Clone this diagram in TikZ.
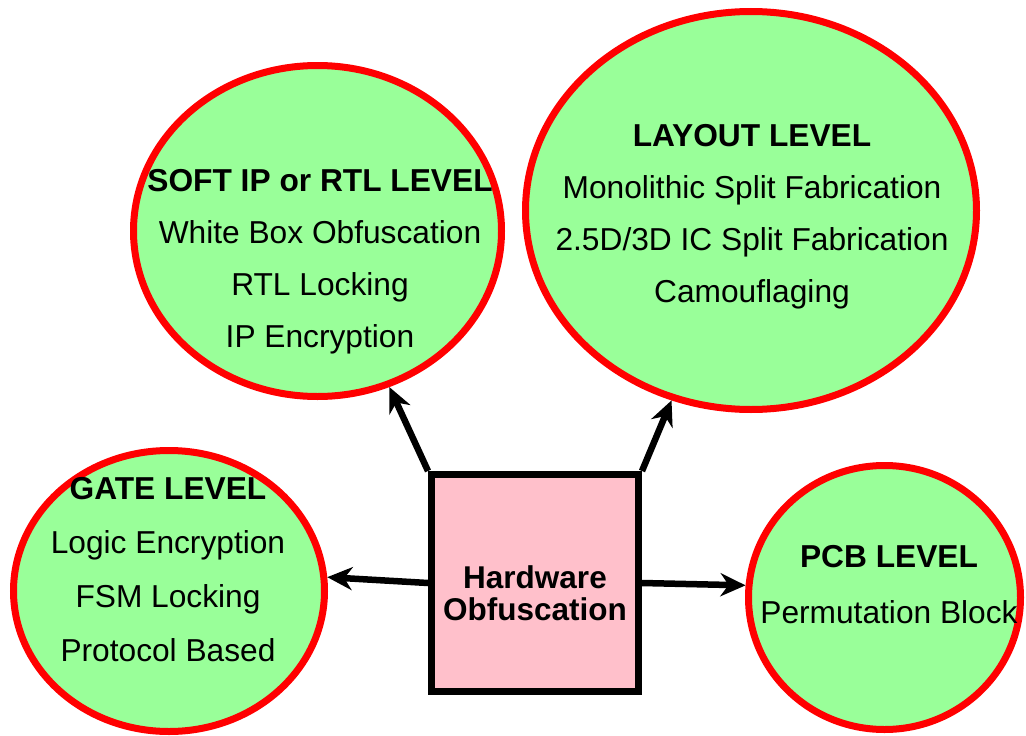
\documentclass[tikz,border=0pt]{standalone}
\usepackage{fontspec}
\setmainfont{Liberation Sans}
\usetikzlibrary{shapes.geometric,arrows.meta}
\definecolor{lvlgreen}{HTML}{99FF99}
\definecolor{boxpink}{HTML}{FFC0CB}
\tikzset{
  level/.style={ellipse, draw=red, fill=lvlgreen, line width=7pt, inner sep=0pt},
  lvltext/.style={align=center, font=\fontsize{31.7}{52}\selectfont, inner sep=0pt},
  core/.style={rectangle, draw=black, fill=boxpink, line width=7pt, minimum width=207pt, minimum height=217pt, inner sep=0pt},
  coretext/.style={align=center, inner sep=0pt, font=\fontsize{31.5}{32}\selectfont\bfseries},
  link/.style={line width=6.5pt, -{Stealth[length=25pt,width=23pt,inset=8pt]}}
}
\begin{document}
\begin{tikzpicture}[x=1pt,y=-1pt]
\useasboundingbox (0,0) rectangle (1026,736);
\node[level, minimum width=311pt, minimum height=281pt] (gate) at (169,591) {};
\node[level, minimum width=368pt, minimum height=331pt] (soft) at (317.5,231) {};
\node[level, minimum width=451pt, minimum height=398pt] (layout) at (751,210.5) {};
\node[level, minimum width=272pt, minimum height=264pt] (pcb) at (884.5,597.5) {};
\node[lvltext] (softtext) at (320,262) {\textbf{SOFT IP or RTL LEVEL}\\White Box Obfuscation\\RTL Locking\\IP Encryption};
\node[lvltext] (layouttext) at (752,217) {\textbf{LAYOUT LEVEL}\\Monolithic Split Fabrication\\2.5D/3D IC Split Fabrication\\Camouflaging};
\node[lvltext, font=\fontsize{31.7}{54}\selectfont] (gatetext) at (168,570) {\textbf{GATE LEVEL}\\Logic Encryption\\FSM Locking\\Protocol Based};
\node[lvltext, font=\fontsize{31.7}{56}\selectfont] (pcbtext) at (889,585) {\textbf{PCB LEVEL}\\Permutation Block};
\node[core] (box) at (535,583) {};
\node[coretext] (boxtext) at (535,593) {Hardware\\Obfuscation};
\draw[link] (box.north west) -- (soft);
\draw[link] (box.north east) -- (layout);
\draw[link] (box.west) -- (gate.5);
\draw[link] (box.east) -- (pcb.175);
\end{tikzpicture}
\end{document}
